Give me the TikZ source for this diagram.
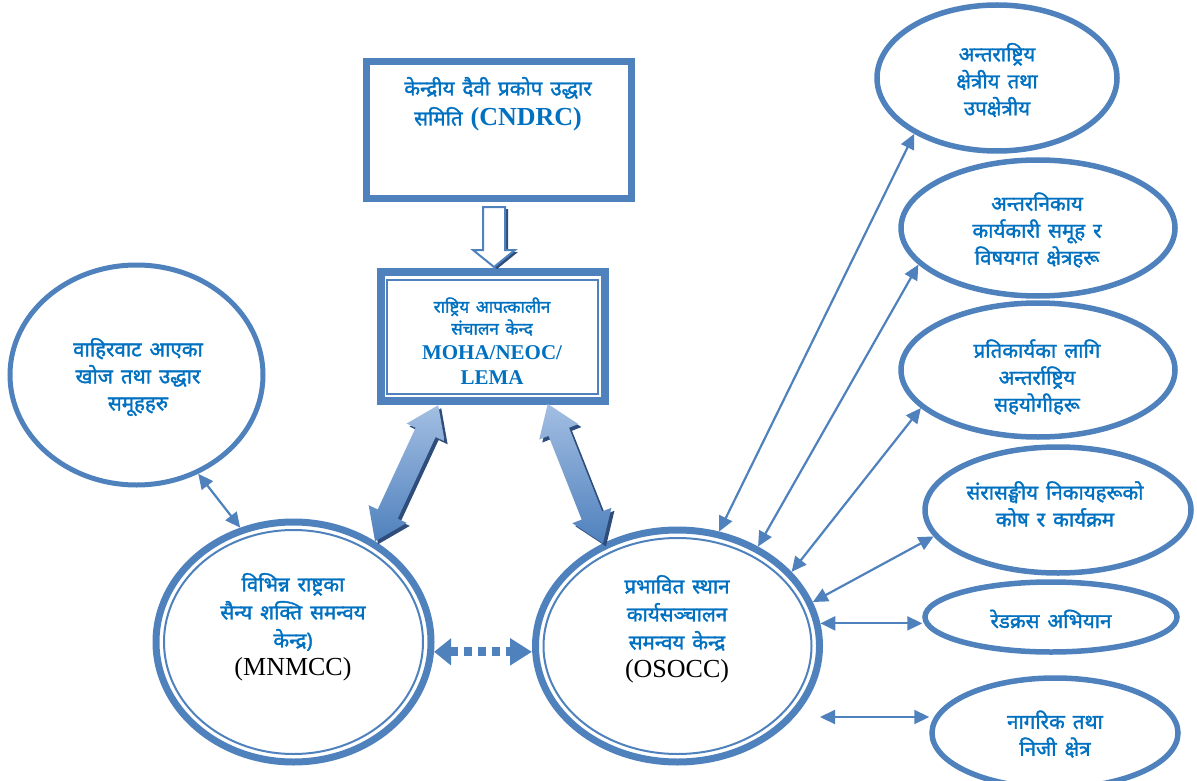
\documentclass[tikz,border=0pt]{standalone}
\usepackage{fontspec}
\setmainfont{Liberation Serif}
\newfontfamily\dev[Script=Devanagari, FakeBold=1.6, WordSpace=1.5]{Noto Sans}
\usetikzlibrary{shapes.geometric,arrows.meta,calc}
\definecolor{lb}{HTML}{4F81BD}
\definecolor{tb}{HTML}{0070C0}
\definecolor{sh}{HTML}{2E4D7B}
\definecolor{lt}{HTML}{A3BEE2}
\newcommand\fatarrow[3]{%
\begin{scope}[shift={($(#1)+(3,3)$)},rotate=#2]
 \fill[sh] (0,0) -- (30,21) -- (30,11) -- ({#3-30},11) -- ({#3-30},21) -- (#3,0) -- ({#3-30},-21) -- ({#3-30},-11) -- (30,-11) -- (30,-21) -- cycle;
\end{scope}
\begin{scope}[shift={(#1)},rotate=#2]
 \shade[top color=lt,bottom color=lb] (0,0) -- (30,21) -- (30,11) -- ({#3-30},11) -- ({#3-30},21) -- (#3,0) -- ({#3-30},-21) -- ({#3-30},-11) -- (30,-11) -- (30,-21) -- cycle;
\end{scope}}
\begin{document}
\begin{tikzpicture}[x=1pt,y=-1pt,
 dv/.style={font=\dev\fontsize{20.5}{27}\selectfont, text=tb, align=center, inner sep=0pt},
 ring/.style={draw=lb, ellipse, inner sep=0pt, line width=5.5pt},
 dring/.style={draw=lb, ellipse, inner sep=0pt, line width=7pt},
 inring/.style={draw=lb, line width=2pt},
 conn/.style={draw=lb, line width=2.2pt, {Triangle[length=15pt,width=14pt]}-{Triangle[length=15pt,width=14pt]}},
 ]
\useasboundingbox (0,0) rectangle (1197,781);

% boxes
\node[draw=lb, line width=7pt, minimum width=265pt, minimum height=137pt, inner sep=0pt] (cndrc) at (499,130) {};
\node[dv, font=\dev\fontsize{20.5}{30}\selectfont] (cndrc-t) at (498,104) {केन्द्रीय दैवी प्रकोप उद्धार\\समिति {\rmfamily\bfseries\fontsize{26}{30}\selectfont (CNDRC)}};

\node[draw=lb, line width=8pt, minimum width=224pt, minimum height=129pt, inner sep=0pt] (neoc) at (493,336.5) {};
\node[draw=lb, line width=2pt, minimum width=211pt, minimum height=114pt, inner sep=0pt] (neoc-in) at (492.5,337) {};
\node[dv, font=\dev\fontsize{17}{22}\selectfont] (neoc-t) at (492,341) {राष्ट्रिय आपत्कालीन\\संचालन केन्द\\[3pt]{\rmfamily\bfseries\fontsize{21}{25}\selectfont MOHA/NEOC/}\\[3pt]{\rmfamily\bfseries\fontsize{21}{25}\selectfont LEMA}};

% hollow arrow
\coordinate (ha) at ($(cndrc.south)!0.5!(neoc.north)+(-2,-28)$);
\begin{scope}[shift={($(ha)+(3,2)$)}]
 \fill[sh] (-11,0) -- (11,0) -- (11,43) -- (21,43) -- (0,60) -- (-21,43) -- (-11,43) -- cycle;
\end{scope}
\begin{scope}[shift={(ha)}]
 \filldraw[fill=white, draw=lb, line width=2pt] (-11,0) -- (11,0) -- (11,43) -- (21,43) -- (0,60) -- (-21,43) -- (-11,43) -- cycle;
\end{scope}

% left circle
\node[ring, line width=5pt, minimum width=253pt, minimum height=220pt] (sar) at (136.5,375) {};
\node[dv] (sar-t) at (138,377) {वाहिरवाट आएका\\खोज तथा उद्धार\\समूहहरु};

% MNMCC
\node[dring, minimum width=275pt, minimum height=240pt] (mnmcc) at (293.5,642) {};
\draw[inring] (mnmcc.center) ellipse [x radius=129.5, y radius=112];
\node[dv, font=\dev\fontsize{20.5}{28}\selectfont] (mnmcc-t) at (293,627) {विभिन्न राष्ट्रका\\सैन्य शक्ति समन्वय\\केन्द्र)\\{\rmfamily\mdseries\fontsize{26}{28}\selectfont\color{black}(MNMCC)}};

% OSOCC
\node[dring, minimum width=284pt, minimum height=232pt] (osocc) at (677.5,646) {};
\draw[inring] (osocc.center) ellipse [x radius=134, y radius=108];
\node[dv, font=\dev\fontsize{20.5}{28}\selectfont] (osocc-t) at (677,629) {प्रभावित स्थान\\कार्यसञ्चालन\\समन्वय केन्द्र\\{\rmfamily\mdseries\fontsize{26}{28}\selectfont\color{black}(OSOCC)}};

% right ellipses
\node[ring, minimum width=240pt, minimum height=146pt] (e1) at (997,78) {};
\node[dv] (e1-t) at (997,80) {अन्तराष्ट्रिय\\क्षेत्रीय तथा\\उपक्षेत्रीय};
\node[ring, minimum width=274pt, minimum height=136pt] (e2) at (1038,228) {};
\node[dv] (e2-t) at (1037,230) {अन्तरनिकाय\\कार्यकारी समूह र\\विषयगत क्षेत्रहरू};
\node[ring, minimum width=274pt, minimum height=134pt] (e3) at (1038,370) {};
\node[dv] (e3-t) at (1037,377) {प्रतिकार्यका लागि\\अन्तर्राष्ट्रिय\\सहयोगीहरू};
\node[ring, minimum width=266pt, minimum height=126pt] (e4) at (1058,510) {};
\node[dv] (e4-t) at (1055,504) {संरासङ्घीय निकायहरूको\\कोष र कार्यक्रम};
\node[ring, minimum width=252pt, minimum height=70pt] (e5) at (1051,617) {};
\node[dv] (e5-t) at (1051,619) {रेडक्रस अभियान};
\node[ring, minimum width=246pt, minimum height=110pt] (e6) at (1055,733) {};
\node[dv] (e6-t) at (1055,734) {नागरिक तथा\\निजी क्षेत्र};

% fat arrows
\coordinate (m1) at (mnmcc.51.3);
\coordinate (o1) at (osocc.126.4);
\fatarrow{m1}{65.1}{150}
\fatarrow{o1}{111.6}{150}

% dotted arrow
\draw[draw=lb, line width=9pt, dash pattern=on 8pt off 6pt, {Triangle[length=17pt,width=26pt]}-{Triangle[length=22pt,width=26pt]}] (mnmcc.-4) -- (mnmcc.-4 -| osocc.west);

% thin connectors
\draw[conn] (sar.302.6) -- (mnmcc.115.8);
\draw[conn] (osocc.70.9) -- (e1.214.2);
\draw[conn] (osocc.51.6) -- (e2.197.3);
\draw[conn] (osocc.33.1) -- (e3.198.6);
\draw[conn] (osocc.18.6) -- (e4.192);
\draw[conn] (osocc.9) -- (osocc.9 -| e5.west);
\coordinate (f1) at (820,717);
\draw[conn] (f1) -- (f1 -| e6.west);
\end{tikzpicture}
\end{document}
